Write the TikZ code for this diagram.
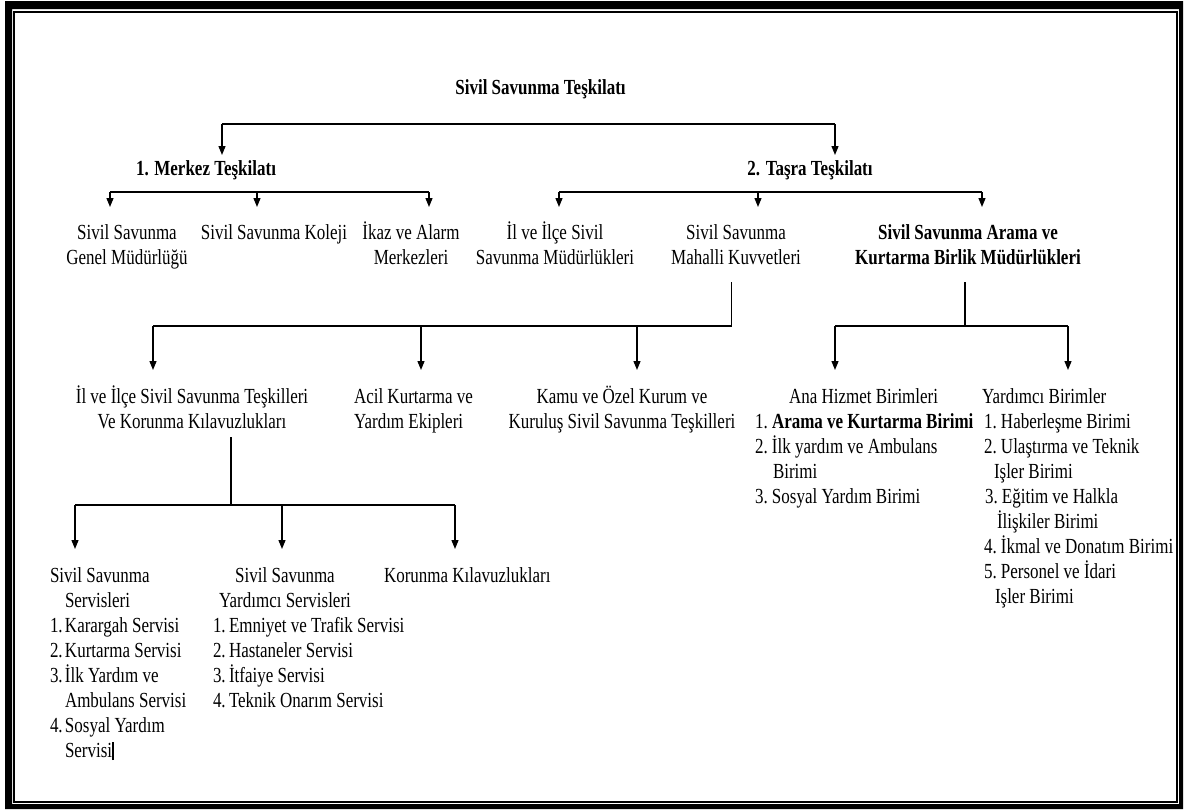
\documentclass[tikz,border=0pt]{standalone}
\usepackage{fontspec}
\setmainfont{Liberation Serif}[FakeStretch=0.79]
\usetikzlibrary{arrows.meta}
\tikzset{
  txt/.style={inner sep=0pt, outer sep=0pt, font=\fontsize{21.5}{25}\selectfont, anchor=base},
  btxt/.style={txt, font=\fontsize{21.5}{25}\selectfont\bfseries},
  conn/.style={line width=1.3pt, black},
  arr/.style={conn, -{Triangle[length=9pt,width=7pt]}},
  frameline/.style={line width=2pt, black},
}
\newcommand\nbx[2]{\makebox[#1][l]{#2}}
\begin{document}
\begin{tikzpicture}[x=1pt,y=-1pt]
\useasboundingbox (0,0) rectangle (1186,809);
% frame
\fill[black,even odd rule] (5,1) rectangle (1183,809) (12,9) rectangle (1179,804);
\draw[frameline] (14,11.5) rectangle (1176.5,802);

% level 0 / 1 (anchor = baseline of the last line)
\node[btxt] (root) at (540.5,94) {Sivil Savunma Teşkilatı};
\node[btxt] (merkez) at (206,175) {1. Merkez Teşkilatı};
\node[btxt] (tasra) at (810,175) {2. Taşra Teşkilatı};

% level 2
\node[txt, align=center] (gm) at (127,264) {Sivil Savunma\\Genel Müdürlüğü};
\node[txt] (kol) at (274,239) {Sivil Savunma Koleji};
\node[txt, align=center] (ikaz) at (411,264) {İkaz ve Alarm\\Merkezleri};
\node[txt, align=center] (ilm) at (555,264) {İl ve İlçe Sivil\\Savunma Müdürlükleri};
\node[txt, align=center] (mah) at (736,264) {Sivil Savunma\\Mahalli Kuvvetleri};
\node[btxt, align=center] (arama) at (968,264) {Sivil Savunma Arama ve\\Kurtarma Birlik Müdürlükleri};

% level 3
\node[txt, align=center] (ilt) at (192,428) {İl ve İlçe Sivil Savunma Teşkilleri\\Ve Korunma Kılavuzlukları};
\node[txt, align=left, anchor=base west] (acil) at (354,428) {Acil Kurtarma ve\\Yardım Ekipleri};
\node[txt, align=center] (kamu) at (622,428) {Kamu ve Özel Kurum ve\\Kuruluş Sivil Savunma Teşkilleri};
\node[txt, align=left, anchor=base west] (ana) at (755,503) {\hspace*{34pt}Ana Hizmet Birimleri\\
  \nbx{17pt}{1.}\textbf{Arama ve Kurtarma Birimi}\\
  \nbx{17pt}{2.}İlk yardım ve Ambulans\\
  \hspace*{18pt}Birimi\\
  \nbx{17pt}{3.}Sosyal Yardım Birimi};
\node[txt, align=left, anchor=base west] (yrd) at (982,603) {Yardımcı Birimler\\
  \hspace*{2pt}\nbx{17pt}{1.}Haberleşme Birimi\\
  \hspace*{2pt}\nbx{17pt}{2.}Ulaştırma ve Teknik\\
  \hspace*{12pt}Işler Birimi\\
  \hspace*{3pt}\nbx{17pt}{3.}Eğitim\ ve Halkla\\
  \hspace*{15pt}İlişkiler Birimi\\
  \hspace*{2pt}\nbx{17pt}{4.}İkmal ve Donatım Birimi\\
  \hspace*{2pt}\nbx{17pt}{5.}Personel ve İdari\\
  \hspace*{13pt}Işler Birimi};

% level 4
\node[txt, align=left, anchor=base west] (ssv) at (50,757) {Sivil Savunma\\
  \hspace*{15pt}Servisleri\\
  \nbx{15pt}{1.}Karargah\ Servisi\\
  \nbx{15pt}{2.}Kurtarma Servisi\\
  \nbx{15pt}{3.}İlk Yardım ve\\
  \hspace*{15pt}Ambulans Servisi\\
  \nbx{15pt}{4.}Sosyal Yardım\\
  \hspace*{15pt}Servisi\rule[-3pt]{1.8pt}{18pt}};
\node[txt, align=center] (ysvh) at (285,607) {Sivil Savunma\\Yardımcı Servisleri};
\node[txt, align=left, anchor=base west] (ysvl) at (213,707) {\nbx{16pt}{1.}Emniyet\ ve Trafik Servisi\\
  \nbx{16pt}{2.}Hastaneler\ Servisi\\
  \nbx{16pt}{3.}İtfaiye Servisi\\
  \nbx{16pt}{4.}Teknik Onarım Servisi};
\node[txt, anchor=base west] (kor) at (384,582) {Korunma Kılavuzlukları};

% connectors: root
\coordinate (rL) at (222,124);
\coordinate (rR) at (835,124);
\draw[conn] (rL) -- (rR);
\draw[arr, shorten >=20pt] (rL) -- (rL |- merkez.base);
\draw[arr, shorten >=20pt] (rR) -- (rR |- tasra.base);

% merkez bar
\coordinate (mA) at (110,192);
\coordinate (mB) at (257,192);
\coordinate (mC) at (429,192);
\draw[conn] (mA) -- (mC);
\draw[arr, shorten >=57pt] (mA) -- (mA |- gm.base);
\draw[arr, shorten >=32pt] (mB) -- (mB |- kol.base);
\draw[arr, shorten >=57pt] (mC) -- (mC |- ikaz.base);

% tasra bar
\coordinate (tA) at (559,192);
\coordinate (tB) at (758,192);
\coordinate (tC) at (982,192);
\draw[conn] (tA) -- (tC);
\draw[arr, shorten >=57pt] (tA) -- (tA |- ilm.base);
\draw[arr, shorten >=57pt] (tB) -- (tB |- mah.base);
\draw[arr, shorten >=57pt] (tC) -- (tC |- arama.base);

% mahalli
\coordinate (mJ) at (731.5,326);
\coordinate (hA) at (153,326);
\coordinate (hB) at (421,326);
\coordinate (hC) at (637,326);
\draw[conn, shorten <=18pt] (mah.base -| mJ) -- (mJ);
\draw[conn] (hA) -- (mJ);
\draw[arr, shorten >=58pt] (hA) -- (hA |- ilt.base);
\draw[arr, shorten >=58pt] (hB) -- (hB |- acil.base);
\draw[arr, shorten >=58pt] (hC) -- (hC |- kamu.base);

% arama
\coordinate (aJ) at (965,326);
\coordinate (aA) at (835,326);
\coordinate (aB) at (1068,326);
\draw[conn, shorten <=18pt] (arama.base -| aJ) -- (aJ);
\draw[conn] (aA) -- (aB);
\draw[arr, shorten >=133pt] (aA) -- (aA |- ana.base);
\draw[arr, shorten >=233pt] (aB) -- (aB |- yrd.base);

% il ve ilce teskilleri
\coordinate (iJ) at (231,505);
\coordinate (iA) at (75,505);
\coordinate (iB) at (282,505);
\coordinate (iC) at (455,505);
\draw[conn, shorten <=9pt] (ilt.base -| iJ) -- (iJ);
\draw[conn] (iA) -- (iC);
\draw[arr, shorten >=208pt] (iA) -- (iA |- ssv.base);
\draw[arr, shorten >=58pt] (iB) -- (iB |- ysvh.base);
\draw[arr, shorten >=33pt] (iC) -- (iC |- kor.base);
\end{tikzpicture}
\end{document}
